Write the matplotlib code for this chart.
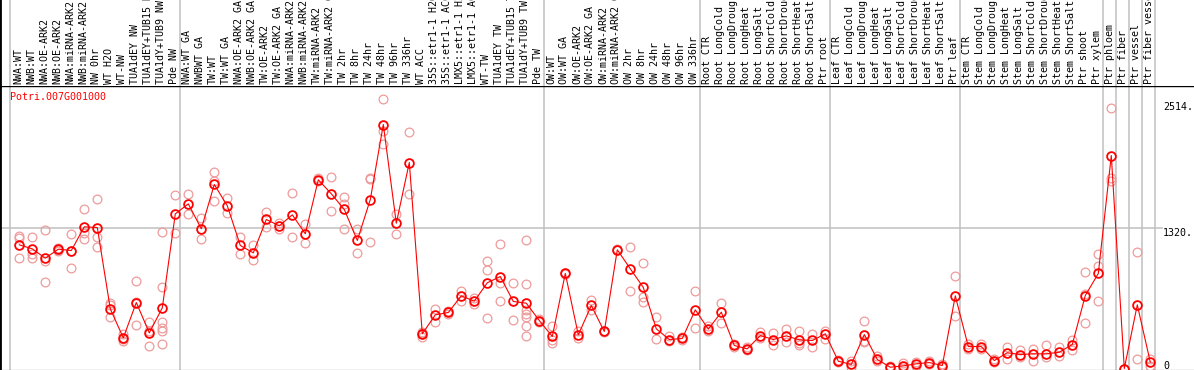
import matplotlib
matplotlib.use("Agg")
import matplotlib.pyplot as plt
import matplotlib.transforms as mtransforms

# sample labels, grouped (groups are split by grey lines)
group_sizes = [13, 28, 12, 10, 10, 11, 1, 1, 1, 1]
samples = [
    "NWA:WT", "NWB:WT", "NWA:OE-ARK2", "NWB:OE-ARK2", "NWA:miRNA-ARK2",
    "NWB:miRNA-ARK2", "NW 0hr", "WT H2O", "WT-NW", "TUA1dEY NW",
    "TUA1dEY+TUB15 NW", "TUA1dY+TUB9 NW", "Pde NW",
    "NWA:WT GA", "NWBWT GA", "TW:WT", "TW:WT GA", "NWA:OE-ARK2 GA",
    "NWB:OE-ARK2 GA", "TW:OE-ARK2", "TW:OE-ARK2 GA", "NWA:miRNA-ARK2 GA",
    "NWB:miRNA-ARK2 GA", "TW:miRNA-ARK2", "TW:miRNA-ARK2 GA", "TW 2hr",
    "TW 8hr", "TW 24hr", "TW 48hr", "TW 96hr", "TW 336hr", "WT ACC",
    "35S::etr1-1 H2O", "35S::etr1-1 ACC", "LMX5::etr1-1 H2O",
    "LMX5::etr1-1 ACC", "WT-TW", "TUA1dEY TW", "TUA1dEY+TUB15 TW",
    "TUA1dY+TUB9 TW", "Pde TW",
    "OW:WT", "OW:WT GA", "OW:OE-ARK2", "OW:OE-ARK2 GA", "OW:miRNA-ARK2",
    "OW:miRNA-ARK2 GA", "OW 2hr", "OW 8hr", "OW 24hr", "OW 48hr", "OW 96hr",
    "OW 336hr",
    "Root CTR", "Root LongCold", "Root LongDrought", "Root LongHeat",
    "Root LongSalt", "Root ShortCold", "Root ShortDrought", "Root ShortHeat",
    "Root ShortSalt", "Ptr root",
    "Leaf CTR", "Leaf LongCold", "Leaf LongDrought", "Leaf LongHeat",
    "Leaf LongSalt", "Leaf ShortCold", "Leaf ShortDrought", "Leaf ShortHeat",
    "Leaf ShortSalt", "Ptr leaf",
    "Stem CTR", "Stem LongCold", "Stem LongDrought", "Stem LongHeat",
    "Stem LongSalt", "Stem ShortCold", "Stem ShortDrought", "Stem ShortHeat",
    "Stem ShortSalt", "Ptr shoot", "Ptr xylem",
    "Ptr phloem", "Ptr fiber", "Ptr vessel", "Ptr fiber vessel",
]

means = [
    1166, 1128, 1040, 1125, 1112, 1336, 1329, 562, 289, 622, 336, 572, 1458,
    1552, 1317, 1735, 1534, 1160, 1090, 1405, 1345, 1449, 1270, 1779, 1647,
    1499, 1207, 1593, 2300, 1370, 1942, 327, 506, 528, 685, 635, 808, 867,
    632, 616, 452,
    302, 896, 317, 594, 349, 1119, 940, 764, 374, 273, 283, 553,
    371, 531, 217, 185, 311, 273, 308, 270, 264, 327,
    69, 38, 320, 85, 12, 25, 44, 56, 28, 685,
    207, 207, 75, 148, 132, 138, 138, 154, 226, 688, 896,
    2008, 0, 600, 60,
]

reps = [
    [1248, 1229, 1043], [1244, 1081, 1043], [1307, 1009, 820],
    [1140, 1112, 1120], [1270, 952, 1112], [1505, 1222, 1280],
    [1600, 1238, 1150], [616, 603, 484], [327, 280, 260], [826, 412, 628],
    [437, 210, 352], [1288, 773, 443, 380, 358, 232], [1637, 1276],
    [1647, 1458], [1420, 1222], [1857, 1766, 1578], [1609, 1464],
    [1244, 1075], [1169, 1024], [1471, 1332], [1370, 1317], [1656, 1244],
    [1364, 1182], [1795, 1765], [1810, 1486], [1615, 1552, 1317],
    [1317, 1090], [1782, 1800, 1197], [2542, 2238, 2118], [1458, 1270],
    [2231, 1647], [300, 345, 335], [562, 443], [545, 515], [729, 641],
    [666, 610], [1018, 924, 478], [1175, 804, 632], [808, 459],
    [1207, 798, 547, 515, 484, 405, 308], [470, 440],
    [396, 264, 242], [900, 892], [352, 289], [647, 547], [355, 343],
    [1125, 1113], [1150, 732], [999, 672, 625], [487, 280], [302, 258],
    [295, 270], [732, 383],
    [402, 352], [622, 427], [230, 205], [200, 170], [342, 289], [333, 217],
    [371, 251], [358, 217, 236], [327, 201], [358, 280],
    [80, 60], [75, 12], [452, 258, 248], [116, 69], [19, 3], [50, 6],
    [60, 28], [69, 44], [44, 12], [874, 493],
    [232, 185], [230, 180], [91, 60], [201, 91], [170, 107], [185, 75],
    [217, 107], [201, 122], [264, 176], [911, 704, 430], [1081, 971, 641],
    [2458, 1798, 1766], [0, 0], [1100, 91], [91, 28],
]

scale_labels = [2514, 1320, 0]
gene = "Potri.007G001000"

W, H = 1194, 370
fig = plt.figure(figsize=(W / 100, H / 100), dpi=100)
mono = "DejaVu Sans Mono"
fs = 7.2
grey = "#c0c0c0"
pink = "#ee9b9b"

# pixel layout: point i sits at 19.3 + 13*i px
x0, dx = 19.3, 13.0
xlim = (-x0 / dx, (W - x0) / dx)
head_h = 85.5
plot_bot = 369.5

ax = fig.add_axes([0, 1 - plot_bot / H, 1, (plot_bot - head_h) / H])
hd = fig.add_axes([0, 1 - head_h / H, 1, head_h / H], sharex=ax)
ax.set_xlim(*xlim)
ax.set_ylim(-9.4, 2668)

for a in (ax, hd):
    a.set_xticks([])
    a.set_yticks([])
    for s in a.spines.values():
        s.set_visible(False)
    a.spines["left"].set_visible(True)
    a.spines["left"].set_linewidth(2)
ax.spines["bottom"].set_visible(True)
ax.spines["top"].set_visible(True)
ax.spines["top"].set_linewidth(1.0)
hd.set_ylim(0, 1)

# group separators
seps = [-0.7]
n = 0
for g in group_sizes:
    n += g
    seps.append(n - 1 + 0.36)
for s in seps:
    ax.axvline(s, color=grey, lw=1.1, zorder=1)
    hd.axvline(s, color=grey, lw=1.1, zorder=1)

ax.axhline(1320, xmin=0, xmax=1162 / W, color=grey, lw=1.1, zorder=1)

# replicates
rx = [i for i, r in enumerate(reps) for _ in r]
ry = [v for r in reps for v in r]
ax.plot(rx, ry, linestyle="none", marker="o", markersize=6.3,
        markerfacecolor="none", markeredgecolor=pink, markeredgewidth=0.9,
        zorder=2)

# means
xs = list(range(len(means)))
ax.plot(xs, means, color="red", lw=0.8, zorder=3)
ax.plot(xs, means, linestyle="none", marker="o", markersize=6.3,
        markerfacecolor="none", markeredgecolor="red", markeredgewidth=1.3,
        zorder=4)

# sample labels in the header
for i, name in enumerate(samples):
    hd.text(i - 0.08, 0.02, name, rotation=90, ha="center", va="bottom",
            family=mono, fontsize=fs, color="black")

ax.text(10 / W, 1 - 12 / (plot_bot - head_h), gene, transform=ax.transAxes,
        ha="left", va="center", family=mono, fontsize=fs, color="red")

# value scale on the right
tr = mtransforms.blended_transform_factory(ax.transAxes, ax.transData)
for v in scale_labels:
    lab = str(v) + "." if v else str(v)
    ax.text(1163 / W, v, lab, transform=tr, ha="left",
            va="top" if v else "baseline", family=mono, fontsize=fs,
            color="black")

fig.savefig("out.png", dpi=100)
plt.close(fig)
